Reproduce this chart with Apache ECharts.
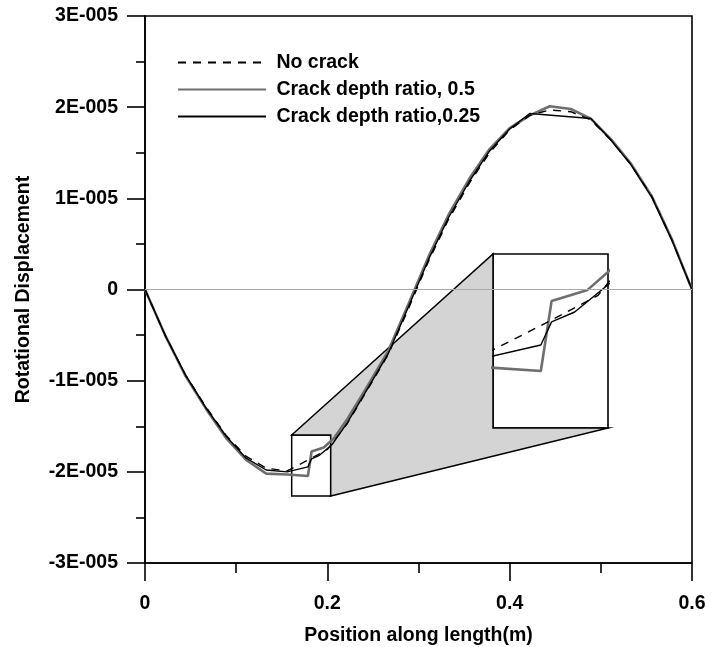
<!DOCTYPE html>
<html><head><meta charset="utf-8">
<script src="https://cdn.jsdelivr.net/npm/echarts@6/dist/echarts.min.js"></script>
<style>html,body{margin:0;padding:0;background:#fff}#c{width:720px;height:647px}</style>
</head><body><div id="c"></div>
<script>
const seriesNames = ['No crack', 'Crack depth ratio, 0.5', 'Crack depth ratio,0.25'];

const xNoCrack = [0, 0.022, 0.044, 0.067, 0.089, 0.111, 0.133, 0.156, 0.178, 0.2, 0.222, 0.244, 0.267, 0.289, 0.311, 0.333, 0.356, 0.378, 0.4, 0.422, 0.444, 0.467, 0.489, 0.511, 0.533, 0.556, 0.578, 0.6];
const yNoCrack = [0, -0.50e-5, -0.93e-5, -1.29e-5, -1.60e-5, -1.83e-5, -1.96e-5, -1.99e-5, -1.875e-5, -1.755e-5, -1.47e-5, -1.10e-5, -0.71e-5, -0.21e-5, 0.31e-5, 0.77e-5, 1.17e-5, 1.50e-5, 1.75e-5, 1.91e-5, 1.97e-5, 1.95e-5, 1.86e-5, 1.64e-5, 1.37e-5, 1.02e-5, 0.54e-5, 0];

const xCrack05 = [0, 0.022, 0.044, 0.067, 0.089, 0.111, 0.133, 0.156, 0.1787, 0.1827, 0.1961, 0.207, 0.222, 0.244, 0.267, 0.289, 0.311, 0.333, 0.356, 0.378, 0.4, 0.422, 0.444, 0.467, 0.489, 0.511, 0.533, 0.556, 0.578, 0.6];
const yCrack05 = [0, -0.50e-5, -0.94e-5, -1.31e-5, -1.63e-5, -1.87e-5, -2.02e-5, -2.03e-5, -2.046e-5, -1.777e-5, -1.734e-5, -1.635e-5, -1.42e-5, -1.06e-5, -0.67e-5, -0.16e-5, 0.36e-5, 0.82e-5, 1.22e-5, 1.54e-5, 1.77e-5, 1.91e-5, 2.01e-5, 1.98e-5, 1.875e-5, 1.65e-5, 1.38e-5, 1.02e-5, 0.55e-5, 0];

const xCrack025 = [0, 0.022, 0.044, 0.067, 0.089, 0.111, 0.133, 0.156, 0.1787, 0.1827, 0.1913, 0.205, 0.222, 0.244, 0.267, 0.289, 0.311, 0.333, 0.356, 0.378, 0.4, 0.422, 0.489, 0.511, 0.533, 0.556, 0.578, 0.6];
const yCrack025 = [0, -0.50e-5, -0.93e-5, -1.30e-5, -1.61e-5, -1.85e-5, -1.98e-5, -2.00e-5, -1.946e-5, -1.857e-5, -1.819e-5, -1.703e-5, -1.46e-5, -1.09e-5, -0.70e-5, -0.19e-5, 0.33e-5, 0.79e-5, 1.19e-5, 1.52e-5, 1.76e-5, 1.93e-5, 1.875e-5, 1.64e-5, 1.37e-5, 1.01e-5, 0.54e-5, 0];

const xTickLabels = ['0', '0.2', '0.4', '0.6'];
const yTickLabels = ['-3E-005', '-2E-005', '-1E-005', '0', '1E-005', '2E-005', '3E-005'];

// magnified region (data coordinates)
const zoomX = [0.1609, 0.2037];
const zoomY = [-2.265e-5, -1.596e-5];

const FONT = 'Liberation Sans, Arial, Helvetica, sans-serif';
const FS = 19.5;

function pairs(xs, ys) { return xs.map((x, i) => [x, ys[i]]); }

const styles = {
  'No crack': { color: '#000', width: 1.4, type: [8, 7] },
  'Crack depth ratio, 0.5': { color: '#6e6e6e', width: 2.6, type: 'solid' },
  'Crack depth ratio,0.25': { color: '#000', width: 1.4, type: 'solid' }
};
const dataMap = {
  'No crack': pairs(xNoCrack, yNoCrack),
  'Crack depth ratio, 0.5': pairs(xCrack05, yCrack05),
  'Crack depth ratio,0.25': pairs(xCrack025, yCrack025)
};
const drawOrder = ['Crack depth ratio, 0.5', 'No crack', 'Crack depth ratio,0.25'];

const series = [];
[0, 1].forEach(g => {
  drawOrder.forEach(name => {
    const s = {
      type: 'line', name: name, xAxisIndex: g, yAxisIndex: g,
      data: dataMap[name], symbol: 'none', showSymbol: false, smooth: false,
      lineStyle: { color: styles[name].color, width: styles[name].width, type: styles[name].type },
      itemStyle: { color: styles[name].color },
      emphasis: { disabled: true }, silent: true, clip: true, z: 3
    };
    if (g === 0 && name === 'Crack depth ratio, 0.5') {
      s.markLine = {
        silent: true, symbol: ['none', 'none'], label: { show: false },
        lineStyle: { color: '#aaaaaa', width: 1, type: 'solid' },
        emphasis: { disabled: true },
        data: [{ yAxis: 0 }]
      };
    }
    if (g === 0 && name === 'Crack depth ratio,0.25') {
      s.markArea = {
        silent: true,
        itemStyle: { color: 'rgba(0,0,0,0)', borderColor: '#000', borderWidth: 1.5 },
        emphasis: { disabled: true },
        data: [[{ coord: [zoomX[0], zoomY[1]] }, { coord: [zoomX[1], zoomY[0]] }]]
      };
    }
    series.push(s);
  });
});

const txt = { fontFamily: FONT, fontSize: FS, fontWeight: 'bold', color: '#000' };

const chart = echarts.init(document.getElementById('c'), null, { renderer: 'canvas' });
chart.setOption({
  animation: false,
  backgroundColor: '#fff',
  legend: {
    data: seriesNames, orient: 'vertical', left: 172, top: 47.5,
    itemWidth: 88, itemHeight: 14, itemGap: 7,
    itemStyle: { opacity: 0 },
    formatter: n => ' ' + n,
    textStyle: txt, selectedMode: false
  },
  grid: [
    { left: 145, top: 16, width: 547, height: 547, outerBoundsMode: 'none', containLabel: false, show: true, borderColor: '#000', borderWidth: 1.6, backgroundColor: 'rgba(0,0,0,0)' },
    { left: 493, top: 254, width: 115, height: 174, outerBoundsMode: 'none', containLabel: false, show: true, borderColor: '#000', borderWidth: 1.6, backgroundColor: '#fff' }
  ],
  xAxis: [
    {
      type: 'value', gridIndex: 0, min: 0, max: 0.6, interval: 0.2,
      axisLine: { onZero: false, lineStyle: { color: '#000', width: 1.6 } },
      axisTick: { length: 18, lineStyle: { color: '#000', width: 1.6 } },
      minorTick: { show: true, splitNumber: 2, length: 10, lineStyle: { color: '#000', width: 1.6 } },
      splitLine: { show: false }, minorSplitLine: { show: false },
      axisLabel: Object.assign({ margin: 31, formatter: v => xTickLabels[Math.round(v / 0.2)] }, txt),
      name: 'Position along length(m)', nameLocation: 'middle', nameGap: 63,
      nameTextStyle: txt
    },
    { type: 'value', gridIndex: 1, min: zoomX[0], max: zoomX[1], show: false, splitLine: { show: false } }
  ],
  yAxis: [
    {
      type: 'value', gridIndex: 0, min: -3e-5, max: 3e-5, interval: 1e-5,
      axisLine: { onZero: false, lineStyle: { color: '#000', width: 1.6 } },
      axisTick: { length: 18, lineStyle: { color: '#000', width: 1.6 } },
      minorTick: { show: true, splitNumber: 2, length: 9, lineStyle: { color: '#000', width: 1.6 } },
      splitLine: { show: false }, minorSplitLine: { show: false },
      axisLabel: Object.assign({ margin: 27, formatter: v => yTickLabels[Math.round(v * 1e5) + 3] }, txt),
      name: 'Rotational Displacement', nameLocation: 'middle', nameGap: 111,
      nameTextStyle: txt
    },
    { type: 'value', gridIndex: 1, min: zoomY[0], max: zoomY[1], show: false, splitLine: { show: false } }
  ],
  series: series
});

// connector polygon between the small region box and the magnified inset
function px(g, pt) { return chart.convertToPixel({ xAxisIndex: g, yAxisIndex: g }, pt); }
const sTL = px(0, [zoomX[0], zoomY[1]]);
const sTR = px(0, [zoomX[1], zoomY[1]]);
const sBR = px(0, [zoomX[1], zoomY[0]]);
const bTL = px(1, [zoomX[0], zoomY[1]]);
const bBL = px(1, [zoomX[0], zoomY[0]]);
const bBR = px(1, [zoomX[1], zoomY[0]]);
chart.setOption({
  graphic: [{
    type: 'polygon', z: 1, silent: true,
    shape: { points: [sTL, bTL, bBL, bBR, sBR, sTR] },
    style: { fill: '#d4d4d4', stroke: '#000', lineWidth: 1.5, lineJoin: 'miter' }
  }]
});
</script>
</body></html>
